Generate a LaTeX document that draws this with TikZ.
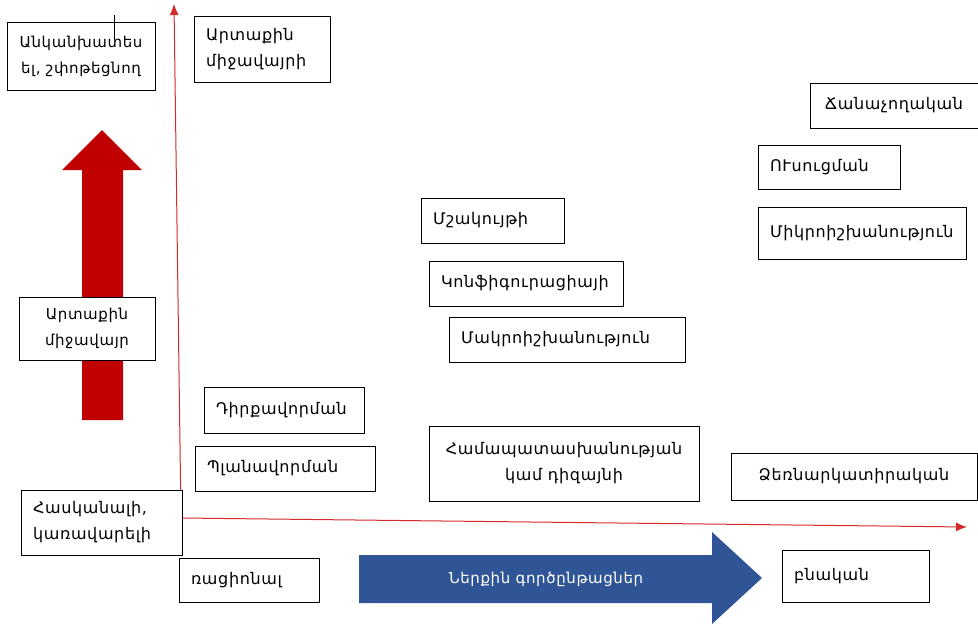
\documentclass[tikz,border=0pt]{standalone}
\usepackage{fontspec}
\setmainfont[LetterSpace=4]{DejaVu Sans}
\usepackage{xcolor}
\usepackage{tikz}
\usetikzlibrary{positioning, arrows.meta}
\definecolor{axisred}{HTML}{D42A2A}
\definecolor{arrowred}{HTML}{C00000}
\definecolor{arrowblue}{HTML}{2F5597}

\begin{document}
\begin{tikzpicture}[>={Latex[length=11pt, width=9pt]}, x=1pt, y=-1pt,
    hop/.style={draw, line width=1pt, fill=white, inner xsep=12pt, inner ysep=3pt,
        font=\fontsize{16}{26}\selectfont},
    axis/.style={axisred, line width=1pt}]
    \useasboundingbox (0,0) rectangle (978,624);

    % Mũi tên lớn
    \fill[arrowred] (82,420) -- (82,170) -- (62,170) -- (102,130) -- (142,170)
        -- (123,170) -- (123,420) -- cycle;
    \fill[arrowblue] (359,555) -- (712,555) -- (712,532) -- (762,578) -- (712,624)
        -- (712,603) -- (359,603) -- cycle;
    \node[text=white, font=\fontsize{15}{18}\selectfont] (nerqin) at (546,579) {Ներքին գործընթացներ};

    % Hệ trục
    \coordinate (O) at (181,518);
    \coordinate (ytop) at (174,4);
    \coordinate (xend) at (967,527);
    \draw[axis, ->] (O) -- (ytop);
    \draw[axis, ->] (O) -- (xend);

    % Các ô bên trái
    \node[hop, inner xsep=4pt, font=\fontsize{15}{26}\selectfont, minimum width=148pt,
        minimum height=68pt, align=center] (ankan) at (81,56)
        {Անկանխատես\\ել, շփոթեցնող};
    \draw[line width=0.8pt] (114,15) -- (114,39);
    \node[hop, inner xsep=4pt, font=\fontsize{15}{26}\selectfont, minimum width=136pt,
        minimum height=63pt, align=center] (artaqin) at (87,328.5)
        {Արտաքին\\միջավայր};
    \node[hop, minimum width=161pt, minimum height=65pt, text width=137pt, align=left] (haskan) at (101.5,522.5)
        {Հասկանալի,\\կառավարելի};
    \node[hop, minimum width=140pt, minimum height=44pt, text width=116pt, align=left] (racion) at (249,580)
        {ռացիոնալ};

    % Các ô ở giữa
    \node[hop, minimum width=136pt, minimum height=66pt, text width=112pt, align=left] (mijavayri) at (262,49)
        {Արտաքին\\միջավայրի};
    \node[hop, minimum width=160pt, minimum height=46pt, text width=136pt, align=left] (dirq) at (284,410)
        {Դիրքավորման};
    \node[hop, minimum width=180pt, minimum height=45pt, text width=156pt, align=left] (plan) at (285,468.5)
        {Պլանավորման};
    \node[hop, minimum width=143pt, minimum height=45pt, text width=119pt, align=left] (mshak) at (492.5,220.5)
        {Մշակույթի};
    \node[hop, minimum width=194pt, minimum height=45pt, text width=170pt, align=left] (konf) at (526,283.5)
        {Կոնֆիգուրացիայի};
    \node[hop, minimum width=236pt, minimum height=45pt, text width=212pt, align=left] (makro) at (567,339.5)
        {Մակրոիշխանություն};
    \node[hop, minimum width=270pt, minimum height=75pt, align=center] (hamap) at (564,463.5)
        {Համապատասխանության\\կամ դիզայնի};

    % Các ô bên phải
    \node[hop, minimum width=168pt, minimum height=45pt, align=center] (chanach) at (894,105.5)
        {Ճանաչողական};
    \node[hop, minimum width=142pt, minimum height=44pt, text width=118pt, align=left] (usuc) at (829,167)
        {ՈՒսուցման};
    \node[hop, minimum width=208pt, minimum height=52pt, text width=184pt, align=left] (mikro) at (862,233)
        {Միկրոիշխանություն};
    \node[hop, minimum width=246pt, minimum height=47pt, align=center] (dzern) at (854,476.5)
        {Ձեռնարկատիրական};
    \node[hop, minimum width=147pt, minimum height=52pt, text width=123pt, align=left] (bnakan) at (855.5,576)
        {բնական};
\end{tikzpicture}
\end{document}
